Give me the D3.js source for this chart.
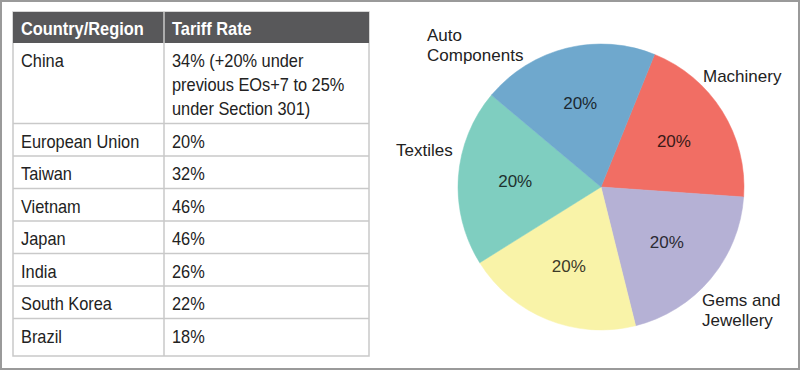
<!DOCTYPE html>
<html>
<head>
<meta charset="utf-8">
<script src="https://cdn.jsdelivr.net/npm/d3@7"></script>
<style>
    body { margin: 0; background: #fff; }
    svg { display: block; }
</style>
</head>
<body>
<div id="wrapper"></div>
<script>
// table data
const headers = ['Country/Region', 'Tariff Rate']
const countries = ['China', 'European Union', 'Taiwan', 'Vietnam', 'Japan', 'India', 'South Korea', 'Brazil']
const rates = [
    ['34% (+20% under', 'previous EOs+7 to 25%', 'under Section 301)'],
    ['20%'], ['32%'], ['46%'], ['46%'], ['26%'], ['22%'], ['18%']
]

// pie data
const sectors = ['Machinery', 'Gems and Jewellery', '', 'Textiles', 'Auto Components']
const shares = [20, 20, 20, 20, 20]
const sectorColors = ['#f16e64', '#b5b1d5', '#f9f3a8', '#7fcec0', '#6fa8cd']

function drawChart() {
    let dimensions = { width: 800, height: 371 }

    const svg = d3.select('#wrapper').append('svg')
        .attr('width', dimensions.width)
        .attr('height', dimensions.height)

    svg.append('rect')
        .attr('x', 1).attr('y', 1)
        .attr('width', dimensions.width - 2)
        .attr('height', dimensions.height - 3)
        .attr('fill', '#fff')
        .attr('stroke', '#9a9a9a')
        .attr('stroke-width', 2)

    // ---- table ----
    const table = { left: 13, right: 369, top: 12, headH: 31, colX: 164, lineH: 24, rowH: 32.5, pad: 8 }
    const squeeze = 0.91
    const font = '"Liberation Sans", Arial, sans-serif'

    const rowTops = []
    let y = table.top + table.headH
    rates.forEach(r => {
        rowTops.push(y)
        y += table.rowH + (r.length - 1) * table.lineH
    })
    const tableBottom = y + 5

    const tg = svg.append('g')

    tg.append('rect')
        .attr('x', table.left).attr('y', table.top)
        .attr('width', table.right - table.left)
        .attr('height', tableBottom - table.top)
        .attr('fill', '#fff')
        .attr('stroke', '#c9c9c9')
        .attr('stroke-width', 1.5)

    tg.append('rect')
        .attr('x', table.left).attr('y', table.top)
        .attr('width', table.right - table.left)
        .attr('height', table.headH)
        .attr('fill', '#58585a')

    tg.selectAll('line.row')
        .data(rowTops.slice(1))
        .join('line')
        .attr('class', 'row')
        .attr('x1', table.left).attr('x2', table.right)
        .attr('y1', d => d).attr('y2', d => d)
        .attr('stroke', '#c9c9c9')
        .attr('stroke-width', 1.5)

    tg.append('line')
        .attr('x1', table.colX).attr('x2', table.colX)
        .attr('y1', table.top).attr('y2', tableBottom)
        .attr('stroke', '#c9c9c9')
        .attr('stroke-width', 1.5)

    const colText = [table.left + table.pad, table.colX + table.pad]

    const putText = (sel, x, yy) => sel
        .attr('transform', `translate(${x},${yy}) scale(${squeeze},1)`)
        .style('font-family', font)
        .style('font-size', '18px')

    headers.forEach((h, i) => {
        putText(tg.append('text'), colText[i], table.top + 23)
            .style('font-weight', 'bold')
            .attr('fill', '#fff')
            .text(h)
    })

    countries.forEach((c, i) => {
        putText(tg.append('text'), colText[0], rowTops[i] + 24)
            .attr('fill', '#222')
            .text(c)
        rates[i].forEach((line, j) => {
            putText(tg.append('text'), colText[1], rowTops[i] + 24 + j * table.lineH)
                .attr('fill', '#222')
                .text(line)
        })
    })

    // ---- pie ----
    const cx = 601, cy = 187, radius = 143
    const pg = svg.append('g')
        .attr('transform', `translate(${cx},${cy})`)

    const pie = d3.pie()
        .sort(null)
        .value(d => d)
        .startAngle(22 * Math.PI / 180)
        .endAngle(22 * Math.PI / 180 + 2 * Math.PI)

    const arcs = pie(shares)
    const arc = d3.arc().innerRadius(0).outerRadius(radius)
    const labelArc = d3.arc().innerRadius(86).outerRadius(86)
    const color = d3.scaleOrdinal().domain(sectors.map((s, i) => i)).range(sectorColors)

    pg.selectAll('path')
        .data(arcs)
        .join('path')
        .attr('d', arc)
        .attr('fill', (d, i) => color(i))
        .attr('stroke', (d, i) => color(i))
        .attr('stroke-width', 0.5)

    pg.selectAll('text.pct')
        .data(arcs)
        .join('text')
        .attr('class', 'pct')
        .attr('x', d => labelArc.centroid(d)[0])
        .attr('y', d => labelArc.centroid(d)[1])
        .attr('text-anchor', 'middle')
        .attr('dominant-baseline', 'central')
        .style('font-family', font)
        .style('font-size', '17px')
        .attr('fill', (d, i) => d3.color(color(i)).darker(4))
        .text(d => d.value + '%')

    // outer category labels, anchored by hand
    const labelSpots = [
        { x: 703, y: 82 },
        { x: 702, y: 306 },
        null,
        { x: 396, y: 156 },
        { x: 427, y: 41 }
    ]
    const nameLines = {
        'Gems and Jewellery': ['Gems and', 'Jewellery'],
        'Auto Components': ['Auto', 'Components']
    }
    sectors.forEach((s, i) => {
        if (!s || !labelSpots[i]) return
        const lines = nameLines[s] || [s]
        const t = svg.append('text')
            .style('font-family', font)
            .style('font-size', '17px')
            .attr('fill', '#222')
        lines.forEach((l, j) => {
            t.append('tspan')
                .attr('x', labelSpots[i].x)
                .attr('y', labelSpots[i].y + j * 20)
                .text(l)
        })
    })
}

drawChart()
</script>
</body>
</html>
